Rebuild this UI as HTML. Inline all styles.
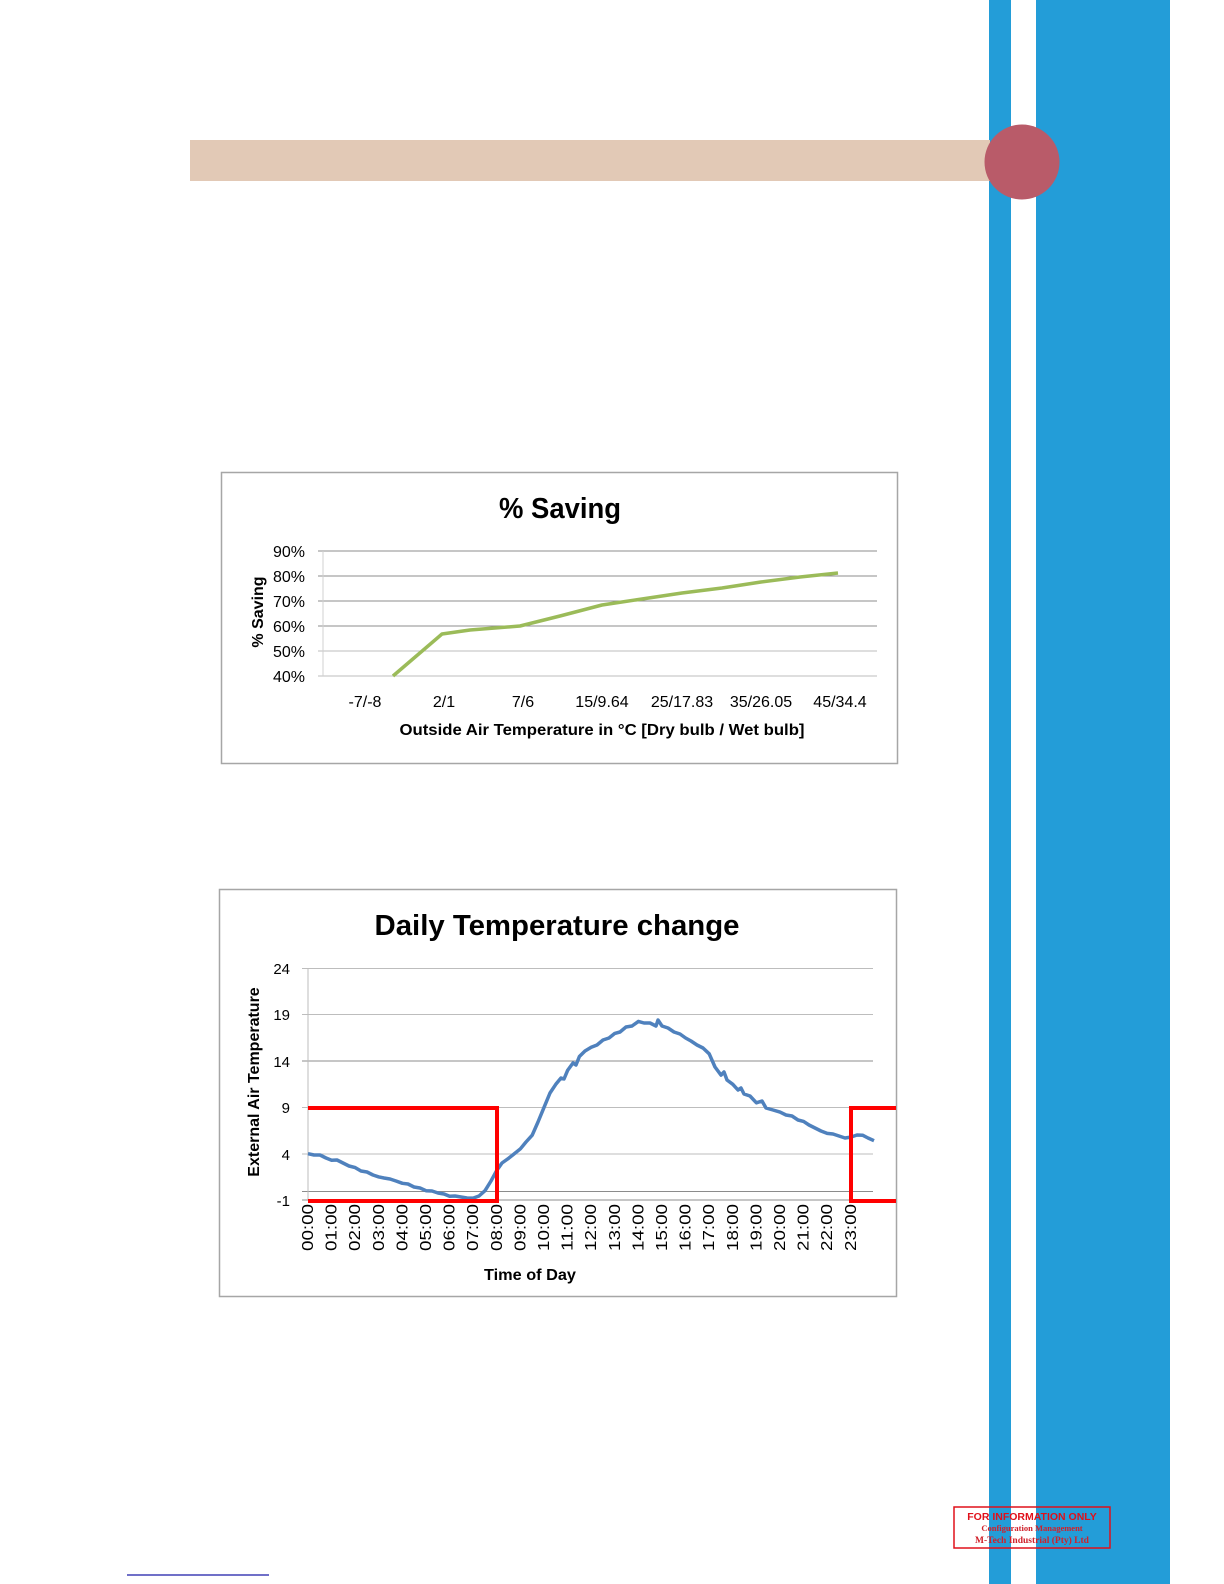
<!DOCTYPE html>
<html><head><meta charset="utf-8"><style>
html,body{margin:0;padding:0;background:#fff}
svg{display:block}
text{font-family:"Liberation Sans",sans-serif}
</style></head><body>
<svg width="1224" height="1584" viewBox="0 0 1224 1584" xmlns="http://www.w3.org/2000/svg">
<rect x="989" y="0" width="22" height="1584" fill="#239dd8"/>
<rect x="1036" y="0" width="134" height="1584" fill="#239dd8"/>
<rect x="190" y="140" width="800" height="41" fill="#e2c9b6"/>
<circle cx="1022" cy="162" r="37.5" fill="#b95b69"/>

<!-- Chart 1 -->
<rect x="221.5" y="472.5" width="676" height="291" fill="#fff" stroke="#a6a6a6" stroke-width="1.5"/>
<text x="560" y="518" font-size="29" font-weight="bold" text-anchor="middle" textLength="122" lengthAdjust="spacingAndGlyphs">% Saving</text>
<g stroke="#8c8c8c" stroke-width="1">
<line x1="318" y1="551" x2="877" y2="551"/>
<line x1="318" y1="576" x2="877" y2="576"/>
<line x1="318" y1="601" x2="877" y2="601"/>
<line x1="318" y1="626" x2="877" y2="626"/>
<line x1="318" y1="651" x2="877" y2="651" stroke="#bdbdbd"/>
<line x1="318" y1="676" x2="877" y2="676" stroke="#bdbdbd"/>
<line x1="323" y1="551" x2="323" y2="676" stroke="#d0d0d0"/>
</g>
<g font-size="16" text-anchor="end">
<text x="305" y="557">90%</text><text x="305" y="582">80%</text><text x="305" y="607">70%</text>
<text x="305" y="632">60%</text><text x="305" y="657">50%</text><text x="305" y="682">40%</text>
</g>
<text transform="translate(263,612) rotate(-90)" font-size="16" font-weight="bold" text-anchor="middle">% Saving</text>
<polyline fill="none" stroke="#9bbb59" stroke-width="3.5" stroke-linejoin="round" points="393,676 442,634 470,630 520,626 560,616 602,605 642,599 682,593 722,588 761,582 800,577 838,573"/>
<g font-size="16" text-anchor="middle">
<text x="365" y="707">-7/-8</text><text x="444" y="707">2/1</text><text x="523" y="707">7/6</text>
<text x="602" y="707">15/9.64</text><text x="682" y="707">25/17.83</text><text x="761" y="707">35/26.05</text><text x="840" y="707">45/34.4</text>
</g>
<text x="602" y="735" font-size="16" font-weight="bold" text-anchor="middle" textLength="405" lengthAdjust="spacingAndGlyphs">Outside Air Temperature in °C [Dry bulb / Wet bulb]</text>

<!-- Chart 2 -->
<rect x="219.5" y="889.5" width="677" height="407" fill="#fff" stroke="#a6a6a6" stroke-width="1.5"/>
<text x="557" y="935" font-size="29" font-weight="bold" text-anchor="middle" textLength="365" lengthAdjust="spacingAndGlyphs">Daily Temperature change</text>
<g stroke="#bdbdbd" stroke-width="1">
<line x1="302" y1="968.5" x2="873" y2="968.5"/>
<line x1="302" y1="1014.5" x2="873" y2="1014.5"/>
<line x1="302" y1="1061" x2="873" y2="1061" stroke="#8c8c8c"/>
<line x1="302" y1="1107.5" x2="873" y2="1107.5"/>
<line x1="302" y1="1154" x2="873" y2="1154"/>
<line x1="302" y1="1191.5" x2="873" y2="1191.5" stroke="#8c8c8c"/>
<line x1="302" y1="1200" x2="873" y2="1200" stroke="#8c8c8c"/>
<line x1="308" y1="968" x2="308" y2="1200"/>
</g>
<g font-size="15" text-anchor="end">
<text x="290" y="974">24</text><text x="290" y="1020">19</text><text x="290" y="1067">14</text>
<text x="290" y="1113">9</text><text x="290" y="1160">4</text><text x="290" y="1206">-1</text>
</g>
<text transform="translate(259,1082) rotate(-90)" font-size="16" font-weight="bold" text-anchor="middle">External Air Temperature</text>
<polyline fill="none" stroke="#4f81bd" stroke-width="3.5" stroke-linejoin="round" points="308,1153.7 314,1155 320,1155 326,1158 331.6,1160.2 337,1160 343,1163 349,1166 355.2,1167.6 361,1171 367,1172 373,1175 378.8,1176.9 384,1178 390,1179 396,1181 402.4,1183.3 408,1184 414,1187 420,1188 426,1190.7 432,1191 438,1193 444,1194 449.6,1196.3 455,1196 461,1197 467,1198 473.2,1198.1 479,1196 485,1190.7 491,1181 496.8,1170.3 502,1163 508.6,1158.3 514,1154 520.4,1148.8 526,1142 532.2,1135.2 538,1122 544,1107.4 550,1093 555.8,1084.3 561,1078 564,1079 567.6,1070.4 573,1063 576,1065 579.4,1056.5 585,1051 591.2,1047.3 597,1045 603,1040 609,1038 614.8,1033.4 620,1032 626,1027 632,1026 638.4,1021.4 644,1023 650,1023 656,1026 658,1020 662,1026 668,1028 674,1032 680,1034 685.6,1038 691,1041 697,1045 703,1048 709.2,1053.8 715,1067 721,1075.1 724,1072 727,1080 732.8,1084.3 738,1090 741,1088 744,1094 750,1096 756.4,1102.8 762,1101 766,1108 773,1110 780,1112.1 786,1115 792,1116 798,1120 803.6,1121.4 809,1125 815,1128 821,1131 827.2,1133.4 833,1134 839,1136 845,1138 850.8,1137.1 857,1135 862.6,1135.2 868,1138 874,1140.7"/>
<g fill="none" stroke="#ff0000" stroke-width="4">
<polyline points="308,1108 497,1108 497,1201 308,1201"/>
<polyline points="896,1108 851,1108 851,1201 896,1201"/>
</g>
<g font-size="16" text-anchor="end">
<text transform="translate(313,1204) rotate(-90)" textLength="47" lengthAdjust="spacingAndGlyphs">00:00</text>
<text transform="translate(336.6,1204) rotate(-90)" textLength="47" lengthAdjust="spacingAndGlyphs">01:00</text>
<text transform="translate(360.2,1204) rotate(-90)" textLength="47" lengthAdjust="spacingAndGlyphs">02:00</text>
<text transform="translate(383.8,1204) rotate(-90)" textLength="47" lengthAdjust="spacingAndGlyphs">03:00</text>
<text transform="translate(407.4,1204) rotate(-90)" textLength="47" lengthAdjust="spacingAndGlyphs">04:00</text>
<text transform="translate(431,1204) rotate(-90)" textLength="47" lengthAdjust="spacingAndGlyphs">05:00</text>
<text transform="translate(454.6,1204) rotate(-90)" textLength="47" lengthAdjust="spacingAndGlyphs">06:00</text>
<text transform="translate(478.2,1204) rotate(-90)" textLength="47" lengthAdjust="spacingAndGlyphs">07:00</text>
<text transform="translate(501.8,1204) rotate(-90)" textLength="47" lengthAdjust="spacingAndGlyphs">08:00</text>
<text transform="translate(525.4,1204) rotate(-90)" textLength="47" lengthAdjust="spacingAndGlyphs">09:00</text>
<text transform="translate(549,1204) rotate(-90)" textLength="47" lengthAdjust="spacingAndGlyphs">10:00</text>
<text transform="translate(572.6,1204) rotate(-90)" textLength="47" lengthAdjust="spacingAndGlyphs">11:00</text>
<text transform="translate(596.2,1204) rotate(-90)" textLength="47" lengthAdjust="spacingAndGlyphs">12:00</text>
<text transform="translate(619.8,1204) rotate(-90)" textLength="47" lengthAdjust="spacingAndGlyphs">13:00</text>
<text transform="translate(643.4,1204) rotate(-90)" textLength="47" lengthAdjust="spacingAndGlyphs">14:00</text>
<text transform="translate(667,1204) rotate(-90)" textLength="47" lengthAdjust="spacingAndGlyphs">15:00</text>
<text transform="translate(690.6,1204) rotate(-90)" textLength="47" lengthAdjust="spacingAndGlyphs">16:00</text>
<text transform="translate(714.2,1204) rotate(-90)" textLength="47" lengthAdjust="spacingAndGlyphs">17:00</text>
<text transform="translate(737.8,1204) rotate(-90)" textLength="47" lengthAdjust="spacingAndGlyphs">18:00</text>
<text transform="translate(761.4,1204) rotate(-90)" textLength="47" lengthAdjust="spacingAndGlyphs">19:00</text>
<text transform="translate(785,1204) rotate(-90)" textLength="47" lengthAdjust="spacingAndGlyphs">20:00</text>
<text transform="translate(808.6,1204) rotate(-90)" textLength="47" lengthAdjust="spacingAndGlyphs">21:00</text>
<text transform="translate(832.2,1204) rotate(-90)" textLength="47" lengthAdjust="spacingAndGlyphs">22:00</text>
<text transform="translate(855.8,1204) rotate(-90)" textLength="47" lengthAdjust="spacingAndGlyphs">23:00</text>
</g>
<text x="530" y="1280" font-size="16" font-weight="bold" text-anchor="middle" textLength="92" lengthAdjust="spacingAndGlyphs">Time of Day</text>

<!-- watermark -->
<rect x="954" y="1507" width="156" height="41" fill="none" stroke="#e0101a" stroke-width="1.5"/>
<text x="1032" y="1520" font-size="10.5" font-weight="bold" fill="#e0101a" text-anchor="middle">FOR INFORMATION ONLY</text>
<text x="1032" y="1531" font-size="8.5" font-weight="bold" fill="#d0202a" text-anchor="middle" style="font-family:'Liberation Serif',serif">Configuration Management</text>
<text x="1032" y="1543" font-size="9.5" font-weight="bold" fill="#d0202a" text-anchor="middle" style="font-family:'Liberation Serif',serif">M-Tech Industrial (Pty) Ltd</text>
<line x1="127" y1="1575" x2="269" y2="1575" stroke="#1a1aa6" stroke-width="1.2"/>
</svg>
</body></html>
